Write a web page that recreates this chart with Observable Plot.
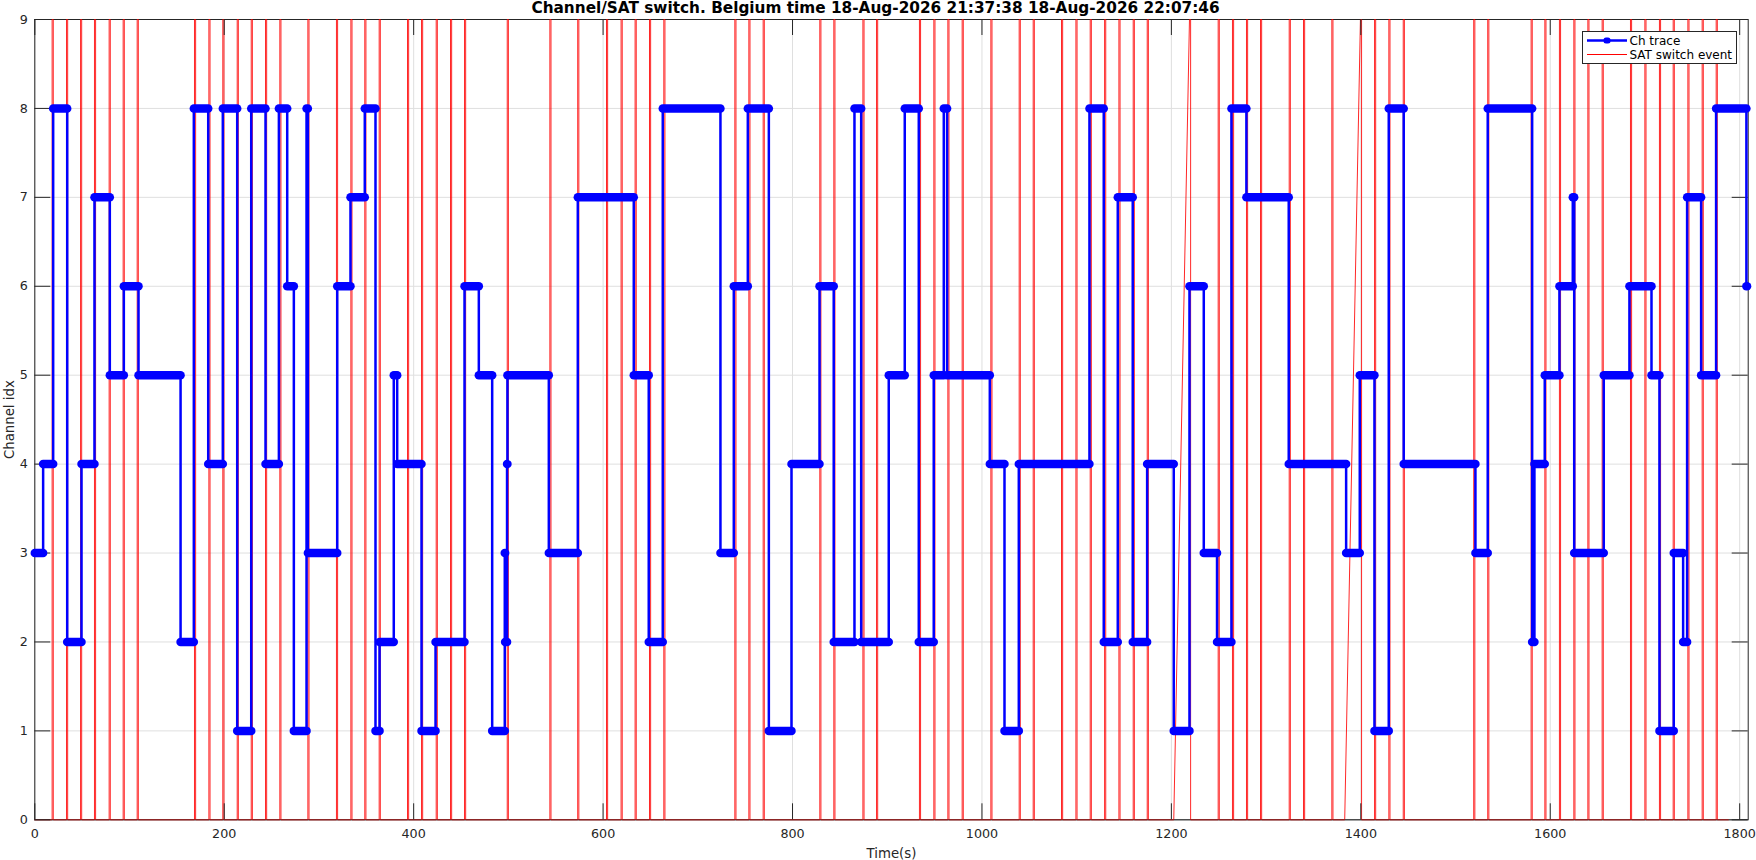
<!DOCTYPE html>
<html>
<head>
<meta charset="utf-8">
<script src="https://cdn.jsdelivr.net/npm/d3@7"></script>
<script src="https://cdn.jsdelivr.net/npm/@observablehq/plot@0.6"></script>
<style>
  html, body { margin: 0; padding: 0; background: #fff; }
  #wrap { position: relative; width: 1756px; height: 860px; font-family: "DejaVu Sans", sans-serif; }
  #legend { position: absolute; left: 1582px; top: 31px; width: 153px; height: 31px;
            border: 1px solid #262626; background: #fff; }
  #legend svg { display: block; }
</style>
</head>
<body>
<div id="wrap">
  <div id="chart"></div>
  <div id="legend">
    <svg width="153" height="31">
      <line x1="4" x2="44" y1="8.5" y2="8.5" stroke="#0000ff" stroke-width="2.5"/>
      <rect x="20.5" y="5.5" width="7" height="6" rx="2.5" fill="#0000ff"/>
      <text x="46.5" y="8.5" dominant-baseline="central" font-size="12" font-family="DejaVu Sans" fill="#000">Ch trace</text>
      <line x1="4" x2="44" y1="22.5" y2="22.5" stroke="#ff0000" stroke-width="1"/>
      <text x="46.5" y="22.5" dominant-baseline="central" font-size="12" font-family="DejaVu Sans" fill="#000">SAT switch event</text>
    </svg>
  </div>
</div>
<script>
// ---------- data ----------
const titleText = "Channel/SAT switch. Belgium time 18-Aug-2026 21:37:38 18-Aug-2026 22:07:46";
const xLabel = "Time(s)";
const yLabel = "Channel idx";
const xTicks = [0, 200, 400, 600, 800, 1000, 1200, 1400, 1600, 1800];
const yTicks = [0, 1, 2, 3, 4, 5, 6, 7, 8, 9];
const xDomain = [0, 1809];
const yDomain = [0, 9];

// Channel trace: time at which each level starts, and the level
const changeTimes = [0, 8.8, 19.4, 34.2, 49.3, 63.0, 79.2, 94.0, 109.5, 153.9, 167.9, 183.1, 198.5, 213.7, 228.5,
  243.6, 257.7, 266.5, 273.5, 286.9, 288.3, 319.3, 333.3, 348.4, 359.7, 364.0, 379.0, 382.6, 408.3, 423.1,
  453.7, 468.8, 482.9, 496.2, 496.6, 498.6, 499.0, 542.7, 573.3, 632.4, 648.2, 663.0, 723.9, 738.0, 752.8,
  775.0, 798.9, 828.5, 843.5, 865.4, 872.5, 901.6, 918.5, 933.3, 949.1, 959.7, 963.2, 1008.3, 1023.8, 1038.9,
  1113.5, 1128.6, 1143.4, 1159.2, 1174.4, 1202.5, 1219.1, 1234.2, 1248.2, 1263.4, 1279.2, 1323.9, 1384.5, 1398.9,
  1414.4, 1429.5, 1445.3, 1521.0, 1534.0, 1580.9, 1583.3, 1594.2, 1609.7, 1623.8, 1625.3, 1656.5, 1683.6, 1706.9,
  1715.3, 1730.4, 1740.3, 1744.5, 1759.3, 1775.1, 1807.1];
const channelValues = [3, 4, 8, 2, 4, 7, 5, 6, 5, 2, 8, 4, 8, 1, 8,
  4, 8, 6, 1, 8, 3, 6, 7, 8, 1, 2, 5, 4, 1, 2,
  6, 5, 1, 3, 2, 4, 5, 3, 7, 5, 2, 8, 3, 6, 8,
  1, 4, 6, 2, 8, 2, 5, 8, 2, 5, 8, 5, 4, 1, 4,
  8, 2, 7, 2, 4, 1, 6, 3, 2, 8, 7, 4, 3, 5,
  1, 8, 4, 3, 8, 2, 4, 5, 6, 7, 3, 5, 6, 5,
  1, 3, 2, 7, 5, 8, 6];
const traceEnd = 1807.8;

// SAT switch events (pulse 0 -> 9 -> 0)
const satTimes = [18.3, 33.5, 48.3, 63.0, 78.5, 93.3, 108.1, 168.6, 183.8, 198.5, 213.7, 228.5, 243.6, 258.7, 288.3,
  318.5, 333.7, 348.4, 363.6, 393.5, 408.3, 423.8, 438.9, 453.7, 498.8, 543.8, 573.2,
  603.6, 619.0, 633.8, 649.0, 664.1, 739.1, 753.9, 769.0, 828.8, 843.6, 874.3, 888.7,
  934.0, 949.2, 964.0, 979.1, 1009.4, 1039.3, 1054.1, 1084.0, 1099.2, 1114.3, 1129.5, 1144.6, 1159.7, 1174.5,
  1219.1, 1249.4, 1264.5, 1279.3, 1294.1, 1324.4, 1339.5, 1369.4, 1399.6, 1414.5, 1429.6, 1444.8,
  1519.2, 1534.0, 1579.8, 1594.3, 1609.7, 1624.9, 1639.7, 1654.8, 1684.7, 1699.9, 1715.3, 1729.8, 1745.3, 1760.4, 1775.2];
// events preceded by a sampling gap: last low sample time before the pulse
const satGapEvents = [1219.1, 1399.6];
const satGapStarts = [1202.5, 1383.0];
const satPulseWidth = 1.2;
const satLow = 0, satHigh = 9;
const satEnd = 1788;

// ---------- derived tables ----------
const segments = changeTimes.map((t, i) => ({
  x1: t, x2: i + 1 < changeTimes.length ? changeTimes[i + 1] : traceEnd, y: channelValues[i]
}));
const stepPts = changeTimes.map((t, i) => ({x: t, y: channelValues[i]}));
stepPts.push({x: traceEnd, y: channelValues[channelValues.length - 1]});

const satPts = [{x: 0, y: satLow}];
satTimes.forEach(t => {
  const gi = satGapEvents.indexOf(t);
  satPts.push({x: gi >= 0 ? satGapStarts[gi] : t, y: satLow});
  satPts.push({x: t, y: satHigh});
  satPts.push({x: t + satPulseWidth, y: satHigh});
  satPts.push({x: t + satPulseWidth, y: satLow});
});
satPts.push({x: satEnd, y: satLow});

// ---------- layout ----------
const W = 1756, H = 860;
const mTop = 19, mLeft = 34.3, mRight = 8.3, mBottom = 40.7;
const fh = H - mTop - mBottom, fw = W - mLeft - mRight;
const tickLen = 16;
const axisColor = "#262626";
const gridColor = "#dfdfdf";
const plain = d => String(d);

const chart = Plot.plot({
  width: W, height: H,
  marginTop: mTop, marginLeft: mLeft, marginRight: mRight, marginBottom: mBottom,
  style: {fontFamily: "DejaVu Sans", background: "#fff", overflow: "visible"},
  x: {domain: xDomain, axis: null},
  y: {domain: yDomain, axis: null},
  marks: [
    Plot.gridX(xTicks, {stroke: gridColor, strokeOpacity: 1}),
    Plot.gridY(yTicks, {stroke: gridColor, strokeOpacity: 1}),
    Plot.frame({stroke: axisColor}),
    Plot.line(satPts, {x: "x", y: "y", stroke: "#ff0000", strokeWidth: 0.85}),
    Plot.ruleY([0], {stroke: axisColor, strokeOpacity: 0.45}),
    Plot.tickX(xTicks, {x: d => d, insetTop: fh - tickLen, stroke: axisColor}),
    Plot.tickX(xTicks, {x: d => d, insetBottom: fh - tickLen, stroke: axisColor}),
    Plot.tickY(yTicks, {y: d => d, insetRight: fw - tickLen, stroke: axisColor}),
    Plot.tickY(yTicks, {y: d => d, insetLeft: fw - tickLen, stroke: axisColor}),
    Plot.line(stepPts, {x: "x", y: "y", curve: "step-after", stroke: "#0000ff", strokeWidth: 2.5}),
    Plot.link(segments, {x1: "x1", x2: "x2", y1: "y", y2: "y", stroke: "#0000ff", strokeWidth: 8.5, strokeLinecap: "round"}),
    Plot.axisX(xTicks, {tickSize: 0, tickPadding: 9, fontSize: 12.7, fill: axisColor, label: null, tickFormat: plain}),
    Plot.axisY(yTicks, {tickSize: 0, tickPadding: 7, fontSize: 12.7, fill: axisColor, label: null, tickFormat: plain}),
    Plot.text([titleText], {text: d => d, frameAnchor: "top", dx: -16, dy: -11.5, lineAnchor: "middle", fontWeight: "bold", fontSize: 15.3, fill: "#000"}),
    Plot.text([xLabel], {text: d => d, frameAnchor: "bottom", dy: 33.5, lineAnchor: "middle", fontSize: 13.3, fill: axisColor}),
    Plot.text([yLabel], {text: d => d, frameAnchor: "left", dx: -25.5, rotate: -90, textAnchor: "middle", lineAnchor: "middle", fontSize: 13.3, fill: axisColor})
  ]
});
document.getElementById("chart").appendChild(chart);
</script>
</body>
</html>
